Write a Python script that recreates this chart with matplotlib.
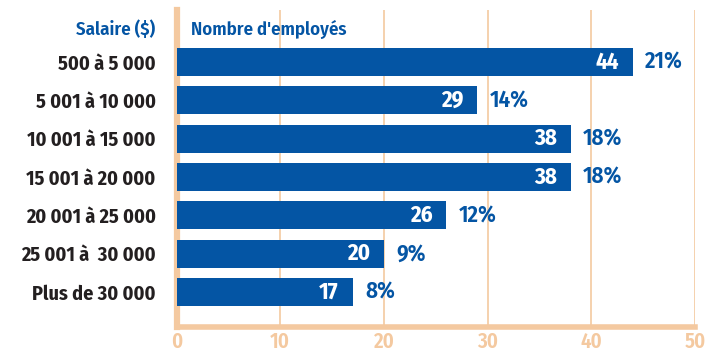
import matplotlib
matplotlib.use("Agg")
import matplotlib.pyplot as plt
from matplotlib.transforms import offset_copy

# salary brackets and head count per bracket
salaires = ["500 à 5 000", "5 001 à 10 000", "10 001 à 15 000", "15 001 à 20 000",
            "20 001 à 25 000", "25 001 à  30 000", "Plus de 30 000"]
employes = [44, 29, 38, 38, 26, 20, 17]
pourcents = ["21%", "14%", "18%", "18%", "12%", "9%", "8%"]
ticks = [0, 10, 20, 30, 40, 50]

BLUE = "#0455a4"
PEACH = "#f4c9a0"
DARK = "#231f20"

plt.rcParams['font.family'] = ['Fira Sans Condensed', 'PT Sans Narrow', 'Barlow Condensed', 'DejaVu Sans']
W = 600

fig = plt.figure(figsize=(7.08, 3.54), dpi=100)
ax = fig.add_axes([0.2493, 0.0763, 0.9816 - 0.2493, 0.9718 - 0.0763])

pos = list(range(len(salaires)))
ax.barh(pos, employes, height=0.73, color=BLUE, zorder=3)

ax.set_xlim(0, 50)
ax.set_ylim(6.91, -1.357)

# vertical grid
for t in ticks[1:]:
    ax.axvline(t, color=PEACH, lw=1.2, zorder=1)

for s in ["top", "right"]:
    ax.spines[s].set_visible(False)
ax.spines["left"].set_color(PEACH)
ax.spines["left"].set_linewidth(4.5)
ax.spines["bottom"].set_color(PEACH)
ax.spines["bottom"].set_linewidth(4.0)
ax.spines["bottom"].set_capstyle("projecting")

ax.set_xticks(ticks)
ax.set_xticklabels([str(t) for t in ticks], color=PEACH, fontsize=15, fontweight=W)
ax.tick_params(axis='x', length=0, pad=3)
ax.set_yticks(pos)
ax.set_yticklabels(salaires, color=DARK, fontsize=14.5, fontweight=700)
ax.tick_params(axis='y', length=0, pad=15)

for i, (v, p) in enumerate(zip(employes, pourcents)):
    ax.text(v, i, str(v), transform=offset_copy(ax.transData, fig=fig, x=-10, y=0, units='points'),
            ha='right', va='center', color='white', fontsize=16.5, fontweight=700, zorder=4)
    ax.text(v, i, p, transform=offset_copy(ax.transData, fig=fig, x=9, y=0, units='points'),
            ha='left', va='center', color=BLUE, fontsize=16.5, fontweight=W, zorder=4)

# column headers
fig.text(155 / 708, 1 - 29 / 354, "Salaire ($)", ha='right', va='center',
         color=BLUE, fontsize=13.5, fontweight=W)
fig.text(191 / 708, 1 - 29 / 354, "Nombre d'employés", ha='left', va='center',
         color=BLUE, fontsize=13.5, fontweight=W)

fig.savefig("out.png", dpi=100)
